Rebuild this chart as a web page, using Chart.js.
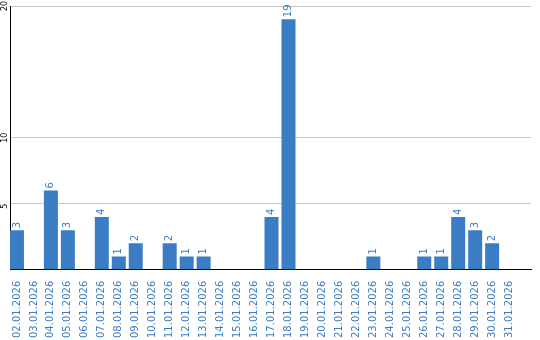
<!DOCTYPE html>
<html>
<head>
<meta charset="utf-8">
<script src="https://cdn.jsdelivr.net/npm/chart.js@4"></script>
<style>
  body { margin: 0; background: #fff; }
  #wrap { width: 540px; height: 340px; }
</style>
</head>
<body>
<div id="wrap"><canvas id="dailyChart"></canvas></div>
<script>
const days = [
    "02.01.2026", "03.01.2026", "04.01.2026", "05.01.2026", "06.01.2026",
    "07.01.2026", "08.01.2026", "09.01.2026", "10.01.2026", "11.01.2026",
    "12.01.2026", "13.01.2026", "14.01.2026", "15.01.2026", "16.01.2026",
    "17.01.2026", "18.01.2026", "19.01.2026", "20.01.2026", "21.01.2026",
    "22.01.2026", "23.01.2026", "24.01.2026", "25.01.2026", "26.01.2026",
    "27.01.2026", "28.01.2026", "29.01.2026", "30.01.2026", "31.01.2026"
];
const counts = [3, 0, 6, 3, 0, 4, 1, 2, 0, 2, 1, 1, 0, 0, 0, 4, 19, 0, 0, 0, 0, 1, 0, 0, 1, 1, 4, 3, 2, 0];
const yTicks = [0, 5, 10, 20];

const BLUE = "#3b7dc4";

// value labels above bars and rotated y tick labels
const labelPlugin = {
    id: "labels",
    afterDatasetsDraw(chart) {
        const ctx = chart.ctx;
        const meta = chart.getDatasetMeta(0);
        ctx.save();
        ctx.fillStyle = BLUE;
        ctx.font = "10px 'DejaVu Sans'";
        ctx.textAlign = "left";
        ctx.textBaseline = "middle";
        meta.data.forEach((bar, i) => {
            if (!counts[i]) return;
            ctx.save();
            ctx.translate(bar.x, bar.y - 2);
            ctx.rotate(-Math.PI / 2);
            ctx.fillText(String(counts[i]), 0, 0);
            ctx.restore();
        });

        const y = chart.scales.y;
        ctx.fillStyle = "#000";
        ctx.font = "8px 'DejaVu Sans'";
        yTicks.forEach(v => {
            if (!v) return;
            ctx.save();
            ctx.translate(5, y.getPixelForValue(v) + 5);
            ctx.rotate(-Math.PI / 2);
            ctx.fillText(String(v), 0, 0);
            ctx.restore();
        });
        ctx.restore();
    }
};

new Chart(document.getElementById("dailyChart"), {
    type: "bar",
    data: {
        labels: days,
        datasets: [{
            data: counts,
            backgroundColor: BLUE,
            barThickness: 14,
            inflateAmount: 0
        }]
    },
    options: {
        responsive: true,
        maintainAspectRatio: false,
        animation: false,
        layout: { padding: { left: 10, right: 9, top: 6, bottom: -1 } },
        plugins: {
            legend: { display: false },
            tooltip: { enabled: false }
        },
        scales: {
            x: {
                // leave some empty room after the last day, like the original
                afterBuildTicks(scale) {
                    scale._startValue = -0.41;
                    scale._valueRange = 30.7;
                },
                grid: { display: false },
                border: { color: "#000", width: 1 },
                ticks: {
                    autoSkip: false,
                    minRotation: 90,
                    maxRotation: 90,
                    padding: 3,
                    color: BLUE,
                    font: { family: "DejaVu Sans", size: 10 }
                }
            },
            y: {
                min: 0,
                max: 20,
                afterBuildTicks(scale) {
                    scale.ticks = yTicks.map(v => ({ value: v }));
                },
                grid: {
                    drawTicks: false,
                    color: c => (c.tick && c.tick.value === 0) ? "rgba(0,0,0,0)" : "#c8c8c8"
                },
                border: { color: "#000", width: 1 },
                ticks: { display: false }
            }
        }
    },
    plugins: [labelPlugin]
});
</script>
</body>
</html>
